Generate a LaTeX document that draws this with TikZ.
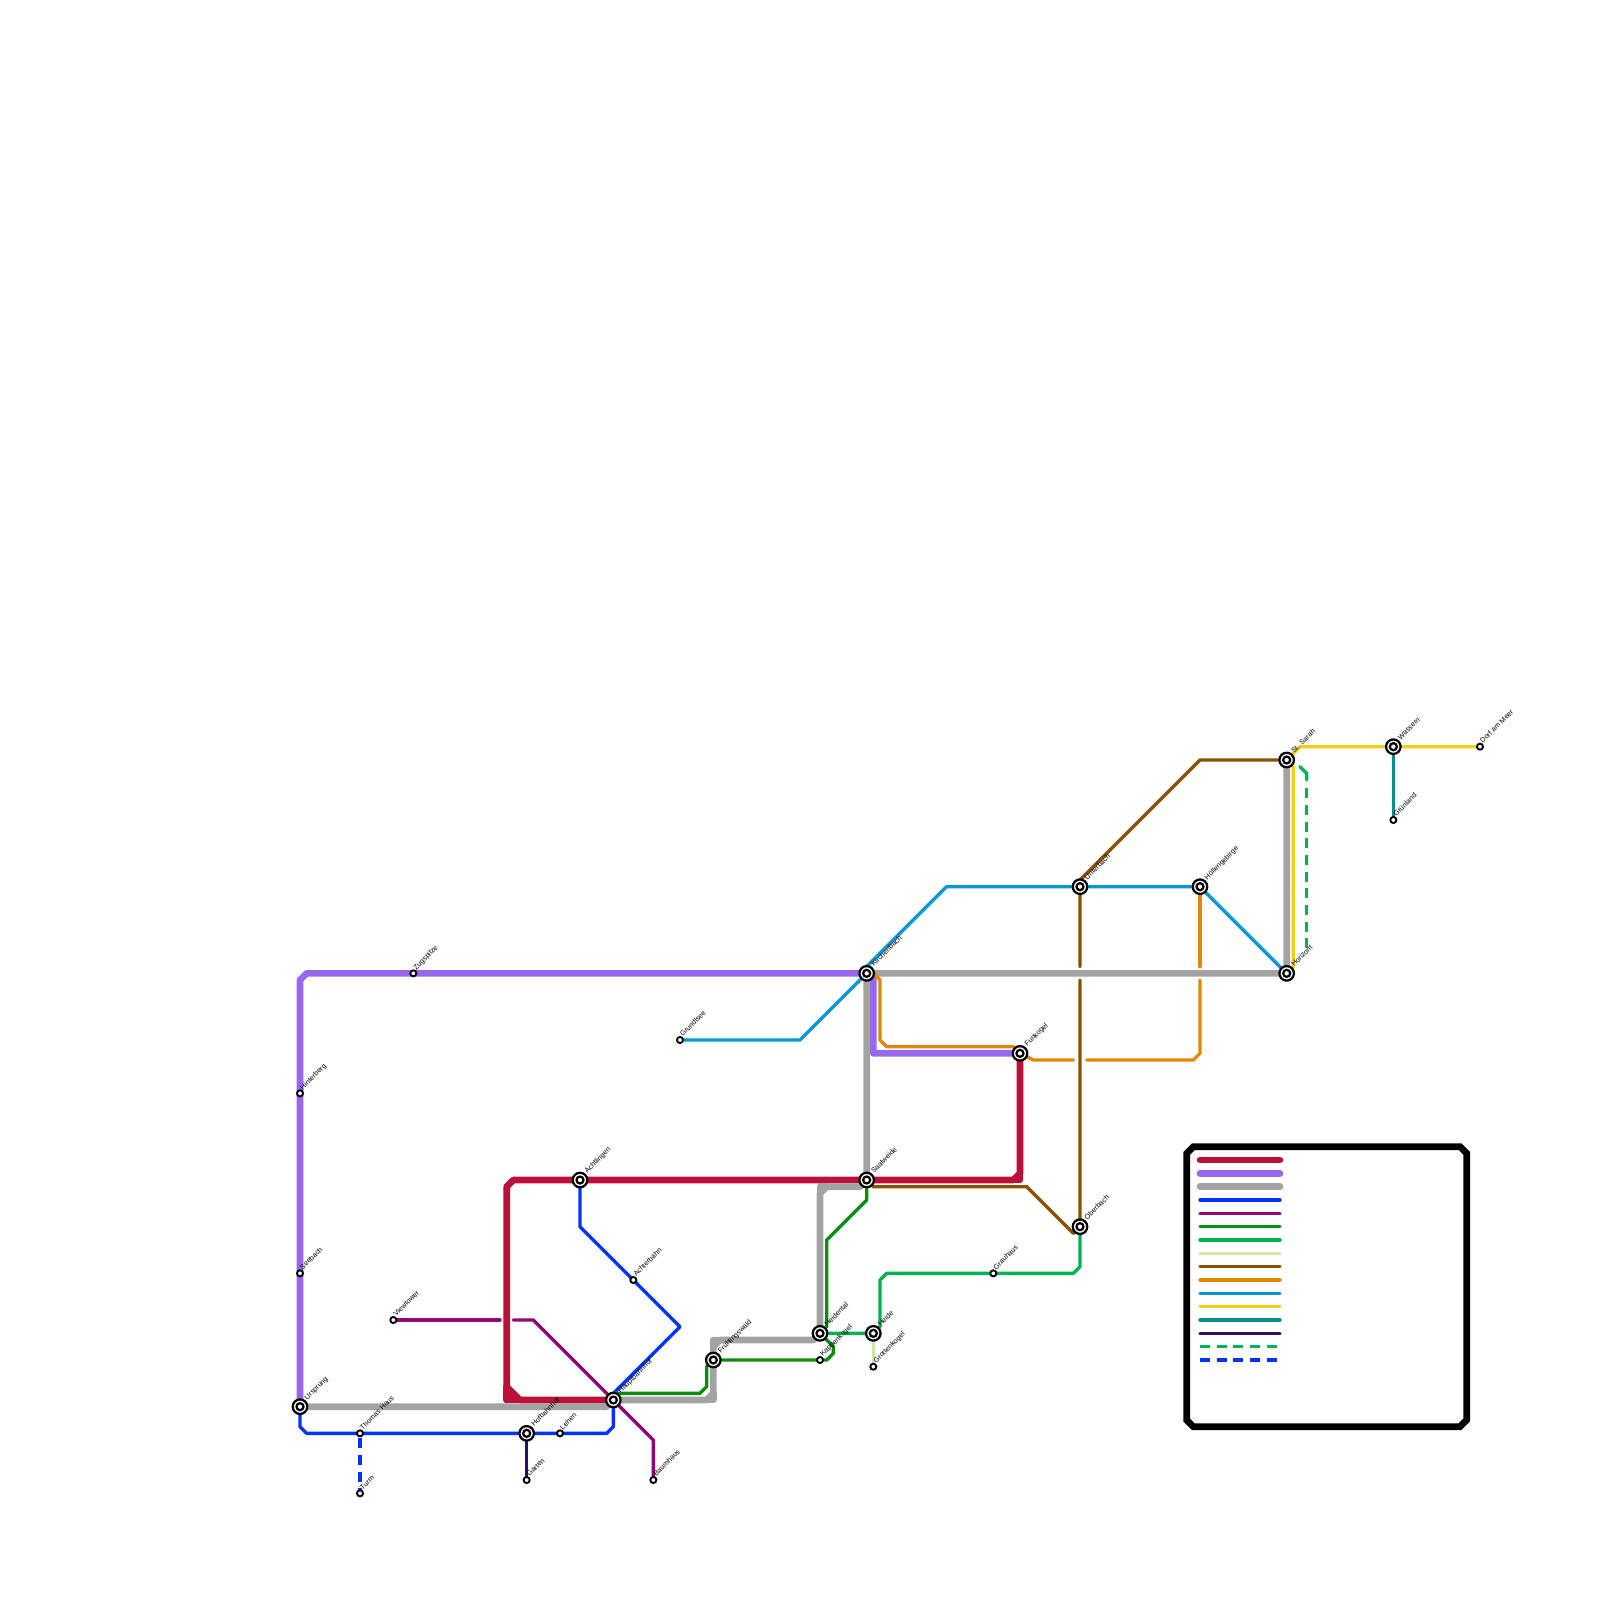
\documentclass[tikz,border=0pt]{standalone}
\usepackage{fontspec}
\setmainfont{Liberation Sans}
\usetikzlibrary{backgrounds}
\definecolor{lnred}{HTML}{BD1038}
\definecolor{lnviolet}{HTML}{9966EE}
\definecolor{lngray}{HTML}{A3A3A3}
\definecolor{lnblue}{HTML}{0033FF}
\definecolor{lnmagenta}{HTML}{8E0776}
\definecolor{lngreen}{HTML}{0F8C0F}
\definecolor{lnmint}{HTML}{00B251}
\definecolor{lnpale}{HTML}{D1E7A7}
\definecolor{lnbrown}{HTML}{8B5000}
\definecolor{lnorange}{HTML}{E18700}
\definecolor{lncyan}{HTML}{0896D7}
\definecolor{lnyellow}{HTML}{F0CE15}
\definecolor{lnteal}{HTML}{0E8C8C}
\definecolor{lndark}{HTML}{2E0F5C}
\tikzset{
  thickline/.style={line width=5.7pt,line cap=round,line join=round},
  thinline/.style={line width=2.85pt,line cap=round,line join=round},
  dashline/.style={line width=2.85pt,line join=round,dash pattern=on 8.54pt off 5.69pt},
  hubstn/.style={circle,draw=black,fill=white,line width=1.9pt,minimum size=12.4pt,inner sep=0pt,outer sep=0pt,
    path picture={\draw[line width=1.9pt] (path picture bounding box.center) circle (3pt);}},
  smallstn/.style={circle,draw=black,fill=white,line width=1.6pt,minimum size=5.2pt,inner sep=0pt,outer sep=0pt},
  hublab/.style={xshift=6.2pt,yshift=5.4pt,anchor=base west,rotate=45,font=\fontsize{6.1}{6.5}\selectfont,inner sep=0pt},
  smalllab/.style={xshift=2.4pt,yshift=2.6pt,anchor=base west,rotate=45,font=\fontsize{6.1}{6.5}\selectfont,inner sep=0pt}
}
\begin{document}
\begin{tikzpicture}[x=0.2cm,y=-0.2cm]
\useasboundingbox (0,0) rectangle (240,240);
% stations
\node[hubstn] (urspr) at (45,211) {};
\node[hublab] (ursprlab) at (urspr) {Ursprung};
\node[smallstn] (thomas) at (54,215) {};
\node[smalllab] (thomaslab) at (thomas) {Thomas Haus};
\node[smallstn] (turm) at (54,224) {};
\node[smalllab] (turmlab) at (turm) {Turm};
\node[hubstn] (hofbf) at (79,215) {};
\node[hublab] (hofbflab) at (hofbf) {Hofbahnhof};
\node[smallstn] (lehen) at (84,215) {};
\node[smalllab] (lehenlab) at (lehen) {Lehen};
\node[smallstn] (garten) at (79,222) {};
\node[smalllab] (gartenlab) at (garten) {Garten};
\node[hubstn] (haupt) at (92,210) {};
\node[hublab] (hauptlab) at (haupt) {Hauptbahnhof};
\node[smallstn] (baumh) at (98,222) {};
\node[smalllab] (baumhlab) at (baumh) {Baumhaus};
\node[smallstn] (viewt) at (59,198) {};
\node[smalllab] (viewtlab) at (viewt) {Viewtower};
\node[smallstn] (achterb) at (95,192) {};
\node[smalllab] (achterblab) at (achterb) {Achterbahn};
\node[hubstn] (achtl) at (87,177) {};
\node[hublab] (achtllab) at (achtl) {Achtlingen};
\node[smallstn] (seeb) at (45,191) {};
\node[smalllab] (seeblab) at (seeb) {Seebach};
\node[smallstn] (hinterb) at (45,164) {};
\node[smalllab] (hinterblab) at (hinterb) {Hinterberg};
\node[smallstn] (zugsp) at (62,146) {};
\node[smalllab] (zugsplab) at (zugsp) {Zugspitze};
\node[smallstn] (grundl) at (102,156) {};
\node[smalllab] (grundllab) at (grundl) {Grundlsee};
\node[hubstn] (fruehl) at (107,204) {};
\node[hublab] (fruehllab) at (fruehl) {Frühlingswald};
\node[hubstn] (heident) at (123,200) {};
\node[hublab] (heidentlab) at (heident) {Heidental};
\node[smallstn] (kappen) at (123,204) {};
\node[smalllab] (kappenlab) at (kappen) {Kappenkogel};
\node[hubstn] (heide) at (131,200) {};
\node[hublab] (heidelab) at (heide) {Heide};
\node[smallstn] (grott) at (131,205) {};
\node[smalllab] (grottlab) at (grott) {Grottenkogel};
\node[hubstn] (saalw) at (130,177) {};
\node[hublab] (saalwlab) at (saalw) {Saalweide};
\node[hubstn] (kirch) at (130,146) {};
\node[hublab] (kirchlab) at (kirch) {Kirchenbach};
\node[hubstn] (funk) at (153,158) {};
\node[hublab] (funklab) at (funk) {Funkogel};
\node[smallstn] (grauh) at (149,191) {};
\node[smalllab] (grauhlab) at (grauh) {Grauhaus};
\node[hubstn] (oberb) at (162,184) {};
\node[hublab] (oberblab) at (oberb) {Oberbach};
\node[hubstn] (unterb) at (162,133) {};
\node[hublab] (unterblab) at (unterb) {Unterbach};
\node[hubstn] (hoell) at (180,133) {};
\node[hublab] (hoelllab) at (hoell) {Höllengebirge};
\node[hubstn] (sarah) at (193,114) {};
\node[hublab] (sarahlab) at (sarah) {St. Sarah};
\node[hubstn] (horiz) at (193,146) {};
\node[hublab] (horizlab) at (horiz) {Horizont};
\node[hubstn] (wass) at (209,112) {};
\node[hublab] (wasslab) at (wass) {Wassern};
\node[smallstn] (dorf) at (222,112) {};
\node[smalllab] (dorflab) at (dorf) {Dorf am Meer};
\node[smallstn] (gruenl) at (209,123) {};
\node[smalllab] (gruenllab) at (gruenl) {Grünland};
\begin{scope}[on background layer]
% lines
\draw[thickline,lnred] (haupt.center) -- (78,210) -- (76,208) -- (76,178) -- (77,177) -- (achtl.center) -- (saalw.center) -- (152,177) -- (153,176) -- (funk.center);
\draw[thickline,lnred] (76,208) -- (76,210) -- (78,210);
\draw[thickline,lnred] (76,210) -- (77,209);
\draw[thickline,lnred] (152,177) -- (153,177) -- (153,176);
\draw[thickline,lnviolet] (urspr.center) -- (seeb.center) -- (hinterb.center) -- (45,147) -- (46,146) -- (zugsp.center) -- (kirch.center) -- (131,147) -- (131,158) -- (funk.center);
\draw[thickline,lngray] (urspr.center) -- (91,211) -- (haupt.center) -- (106,210) -- (107,209) -- (fruehl.center) -- (107,202) -- (108,201) -- (122,201) -- (heident.center) -- (123,179) -- (124,178) -- (129,178) -- (saalw.center) -- (kirch.center) -- (131,146) -- (horiz.center) -- (sarah.center);
\draw[thickline,lngray] (106,210) -- (107,210) -- (107,209);
\draw[thickline,lngray] (107,202) -- (107,201) -- (108,201);
\draw[thickline,lngray] (123,179) -- (123,178) -- (124,178);
\draw[thinline,lnblue] (urspr.center) -- (45,214) -- (46,215) -- (thomas.center) -- (hofbf.center) -- (lehen.center) -- (91,215) -- (92,214) -- (haupt.center) -- (92,209) -- (102,199) -- (achterb.center) -- (87,184) -- (achtl.center);
\draw[thinline,lnmagenta] (viewt.center) -- (75,198);
\draw[thinline,lnmagenta] (77,198) -- (80,198) -- (haupt.center) -- (98,216) -- (baumh.center);
\draw[thinline,lngreen] (haupt.center) -- (92,209) -- (105,209) -- (106,208) -- (106,205) -- (fruehl.center) -- (kappen.center) -- (124,204) -- (125,203) -- (125,202) -- (heident.center) -- (124,199) -- (124,186) -- (130,180) -- (saalw.center);
\draw[thinline,lnmint] (heident.center) -- (heide.center) -- (132,199) -- (132,192) -- (133,191) -- (grauh.center) -- (161,191) -- (162,190) -- (oberb.center);
\draw[thinline,lnpale] (heide.center) -- (grott.center);
\draw[thinline,lnbrown] (saalw.center) -- (131,178) -- (154,178) -- (161,185) -- (oberb.center) -- (162,147);
\draw[thinline,lnbrown] (162,145) -- (unterb.center) -- (162,132) -- (180,114) -- (sarah.center);
\draw[thinline,lnorange] (kirch.center) -- (131,146) -- (132,147) -- (132,156) -- (133,157) -- (152,157) -- (funk.center) -- (155,159) -- (161,159);
\draw[thinline,lnorange] (163,159) -- (179,159) -- (180,158) -- (180,147);
\draw[thinline,lnorange] (180,145) -- (hoell.center);
\draw[thinline,lncyan] (grundl.center) -- (120,156) -- (kirch.center) -- (130,145) -- (142,133) -- (unterb.center) -- (hoell.center) -- (horiz.center);
\draw[thinline,lnyellow] (dorf.center) -- (wass.center) -- (195,112) -- (sarah.center) -- (194,115) -- (194,145) -- (horiz.center);
\draw[thinline,lnteal] (wass.center) -- (gruenl.center);
\draw[thinline,lndark] (hofbf.center) -- (garten.center);
\draw[thinline,lnmint] (195,115) -- (196,116) -- (196,117);
\draw[dashline,lnmint] (196,118.25) -- (196,142.25);
\draw[dashline,lnblue,dash phase=9.96pt] (thomas.center) -- (turm.center);
\end{scope}
% legend
\draw[line width=5.7pt,black] (178,173) -- (179,172) -- (219,172) -- (220,173) -- (220,213) -- (219,214) -- (179,214) -- (178,213) -- cycle;
\draw[thickline,lnred] (180,174) -- (192,174);
\draw[thickline,lnviolet] (180,176) -- (192,176);
\draw[thickline,lngray] (180,178) -- (192,178);
\draw[thinline,lnblue] (180,180) -- (192,180);
\draw[thinline,lnmagenta] (180,182) -- (192,182);
\draw[thinline,lngreen] (180,184) -- (192,184);
\draw[thinline,lnmint] (180,186) -- (192,186);
\draw[thinline,lnpale] (180,188) -- (192,188);
\draw[thinline,lnbrown] (180,190) -- (192,190);
\draw[thinline,lnorange] (180,192) -- (192,192);
\draw[thinline,lncyan] (180,194) -- (192,194);
\draw[thinline,lnyellow] (180,196) -- (192,196);
\draw[thinline,lnteal] (180,198) -- (192,198);
\draw[thinline,lndark] (180,200) -- (192,200);
\draw[dashline,lnmint] (180,202) -- (192,202);
\draw[dashline,lnblue] (180,204) -- (192,204);
\end{tikzpicture}
\end{document}
